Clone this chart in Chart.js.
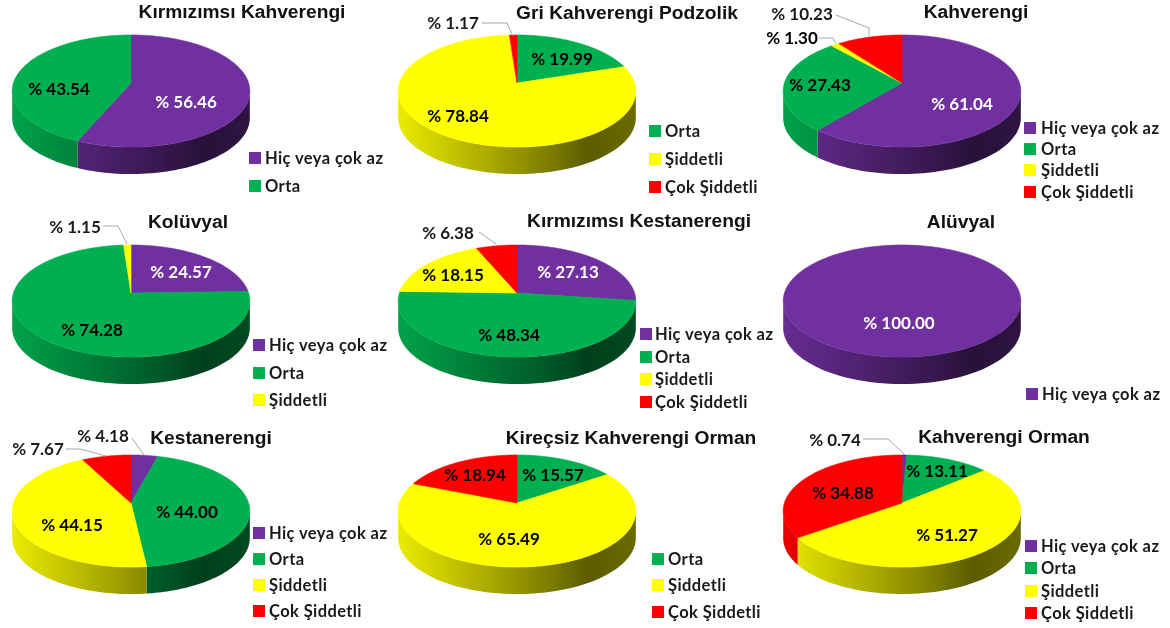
<!DOCTYPE html>
<html>
<head>
<title>Erozyon</title>
<style>
  html, body { margin: 0; padding: 0; background: #fff; }
  #page { position: relative; width: 1170px; height: 628px; overflow: hidden; }
  canvas { position: absolute; }
  .title { position: absolute; transform: translate(-50%, -50%); white-space: nowrap;
    font: bold 19.2px "Liberation Sans", Arial, sans-serif; color: #111; }
  .leg { position: absolute; transform: translateY(-50%); white-space: nowrap;
    font: bold 16.5px Lato, sans-serif; color: #1a1a1a; letter-spacing: .4px; }
  .sw { position: absolute; width: 12px; height: 12px; transform: translateY(-50%); }
</style>
</head>
<body>
<div id="page"></div>

<script src="https://cdn.jsdelivr.net/npm/chart.js"></script>
<script>
const categories = ['Hiç veya çok az', 'Orta', 'Şiddetli', 'Çok Şiddetli'];
const colors = ['#7030A0', '#00B050', '#FFFF00', '#FF0000'];

const titles = ['Kırmızımsı Kahverengi', 'Gri Kahverengi Podzolik', 'Kahverengi',
  'Kolüvyal', 'Kırmızımsı Kestanerengi', 'Alüvyal',
  'Kestanerengi', 'Kireçsiz Kahverengi Orman', 'Kahverengi Orman'];

// one value per category, 0 = not in that chart
const kirmiziKahve = [56.46, 43.54, 0, 0];
const griPodzolik = [0, 19.99, 78.84, 1.17];
const kahverengi = [61.04, 27.43, 1.30, 10.23];
const koluvyal = [24.57, 74.28, 1.15, 0];
const kirmiziKestane = [27.13, 48.34, 18.15, 6.38];
const aluvyal = [100.00, 0, 0, 0];
const kestane = [4.18, 44.00, 44.15, 7.67];
const kirecsiz = [0, 15.57, 65.49, 18.94];
const kahveOrman = [0.74, 13.11, 51.27, 34.88];
const allValues = [kirmiziKahve, griPodzolik, kahverengi, koluvyal, kirmiziKestane, aluvyal, kestane, kirecsiz, kahveOrman];

// page layout, separate from the data
const cellX = [-10, 376, 761], cellY = [0, 210, 420];
const titlePos = [[242, 12], [627, 13], [976, 12], [188, 222], [639, 221], [961, 222], [211, 438], [631, 438], [1004, 437]];
// label centres for each category, in page px
const labelPos = [
  [[186, 103], [59, 90]],
  [null, [562, 60], [458, 117], [453, 24]],
  [[962, 105], [820, 86], [792, 39], [802, 15]],
  [[181, 273], [92, 331], [75, 228]],
  [[568, 273], [509, 336], [453, 276], [448, 234]],
  [[899, 324]],
  [[103, 437], [187, 513], [72, 526], [38, 450]],
  [null, [553, 476], [509, 540], [475, 476]],
  [[835, 441], [937, 472], [947, 536], [843, 494]]
];
const leaders = [
  [],
  [[[482, 23], [507, 23], [513, 36]]],
  [[[819, 38], [833, 38], [836, 44]], [[836, 15], [869, 28], [869, 36]]],
  [[[103, 226], [118, 226], [127, 244]]],
  [[[479, 232], [496, 244]]],
  [],
  [[[132, 438], [144, 455]], [[66, 449], [80, 449], [106, 456]]],
  [],
  [[[863, 439], [888, 439], [904, 454]]]
];
const legendPos = [
  {sw: 249, text: 265, rows: [158, 186]},
  {sw: 649, text: 665, rows: [131, 159, 187]},
  {sw: 1024, text: 1041, rows: [128, 149, 170, 192]},
  {sw: 253, text: 269, rows: [345, 373, 400]},
  {sw: 640, text: 655, rows: [334, 357, 379, 402]},
  {sw: 1026, text: 1042, rows: [394]},
  {sw: 253, text: 269, rows: [533, 559, 585, 611]},
  {sw: 652, text: 668, rows: [559, 585, 612]},
  {sw: 1025, text: 1041, rows: [546, 568, 591, 613]}
];

// the pie as seen in perspective: tilt moves the hub up from the ellipse middle
const hubX = 141, hubY = 83, pieA = 117.6, pieS = 54.9, tilt = 0.143, depth = 27;

function project(a) {
  const w = 1 - tilt * Math.sin(a);
  return [hubX + pieA * Math.cos(a) / w, hubY + pieS * Math.sin(a) / w];
}

function shade(hex, f) {
  const n = parseInt(hex.slice(1), 16);
  return 'rgb(' + Math.round((n >> 16) * f) + ',' + Math.round(((n >> 8) & 255) * f) + ',' + Math.round((n & 255) * f) + ')';
}

const pie3d = {
  id: 'pie3d',
  beforeDatasetsDraw(chart) {
    const ctx = chart.ctx;
    const arcs = chart.getDatasetMeta(0).data;
    const i = chart.options.plugins.pie3d.index;
    const ox = cellX[i % 3], oy = cellY[Math.floor(i / 3)];
    const a0 = Math.asin(tilt), a1 = Math.PI - a0;
    const vals = allValues[i];

    // side wall first
    arcs.forEach((arc, k) => {
      if (!vals[k]) return;
      const from = Math.max(arc.startAngle, a0), to = Math.min(arc.endAngle, a1);
      if (to <= from) return;
      const grad = ctx.createLinearGradient(hubX - 119, 0, hubX + 119, 0);
      [[0, .92], [.3, .72], [.62, .5], [.8, .36], [1, .42]].forEach(s => grad.addColorStop(s[0], shade(colors[k], s[1])));
      ctx.fillStyle = grad;
      ctx.beginPath();
      const n = 60;
      for (let t = 0; t <= n; t++) {
        const p = project(from + (to - from) * t / n);
        ctx.lineTo(p[0], p[1]);
      }
      for (let t = n; t >= 0; t--) {
        const p = project(from + (to - from) * t / n);
        ctx.lineTo(p[0], p[1] + depth);
      }
      ctx.closePath();
      ctx.fill();
    });

    // top face
    arcs.forEach((arc, k) => {
      if (!vals[k]) return;
      ctx.fillStyle = colors[k];
      ctx.strokeStyle = colors[k];
      ctx.lineWidth = .6;
      ctx.beginPath();
      ctx.moveTo(hubX, hubY);
      const n = 120;
      for (let t = 0; t <= n; t++) {
        const p = project(arc.startAngle + (arc.endAngle - arc.startAngle) * t / n);
        ctx.lineTo(p[0], p[1]);
      }
      ctx.closePath();
      ctx.fill();
      ctx.stroke();
    });

    // leader lines
    ctx.strokeStyle = '#a6a6a6';
    ctx.lineWidth = 1;
    leaders[i].forEach(line => {
      ctx.beginPath();
      line.forEach(p => ctx.lineTo(p[0] - ox, p[1] - oy));
      ctx.stroke();
    });

    // value labels
    ctx.font = 'bold 17px Lato, sans-serif';
    ctx.textAlign = 'center';
    ctx.textBaseline = 'middle';
    labelPos[i].forEach((p, k) => {
      if (!p) return;
      const outside = p[1] - oy < 32;
      ctx.fillStyle = k === 0 && vals[k] > 10 ? '#fff' : (outside ? '#1a1a1a' : '#000');
      ctx.fillText('% ' + vals[k].toFixed(2), p[0] - ox, p[1] - oy);
    });
    return false;
  }
};

const page = document.getElementById('page');

titles.forEach((title, i) => {
  const cv = document.createElement('canvas');
  cv.width = 400;
  cv.height = 208;
  cv.style.left = cellX[i % 3] + 'px';
  cv.style.top = cellY[Math.floor(i / 3)] + 'px';
  page.appendChild(cv);

  new Chart(cv, {
    type: 'pie',
    data: {
      labels: categories,
      datasets: [{ data: allValues[i], backgroundColor: colors, borderWidth: 0 }]
    },
    options: {
      responsive: false,
      animation: false,
      events: [],
      plugins: {
        legend: { display: false },
        tooltip: { enabled: false },
        pie3d: { index: i }
      }
    },
    plugins: [pie3d]
  });

  const t = document.createElement('div');
  t.className = 'title';
  t.textContent = title;
  t.style.left = titlePos[i][0] + 'px';
  t.style.top = titlePos[i][1] + 'px';
  page.appendChild(t);

  // legend lists only the categories this chart has
  let row = 0;
  categories.forEach((c, k) => {
    if (!allValues[i][k]) return;
    const y = legendPos[i].rows[row++];
    const sw = document.createElement('div');
    sw.className = 'sw';
    sw.style.background = colors[k];
    sw.style.left = legendPos[i].sw + 'px';
    sw.style.top = y + 'px';
    page.appendChild(sw);
    const l = document.createElement('div');
    l.className = 'leg';
    l.textContent = c;
    l.style.left = legendPos[i].text + 'px';
    l.style.top = y + 'px';
    page.appendChild(l);
  });
});
</script>
</body>
</html>
